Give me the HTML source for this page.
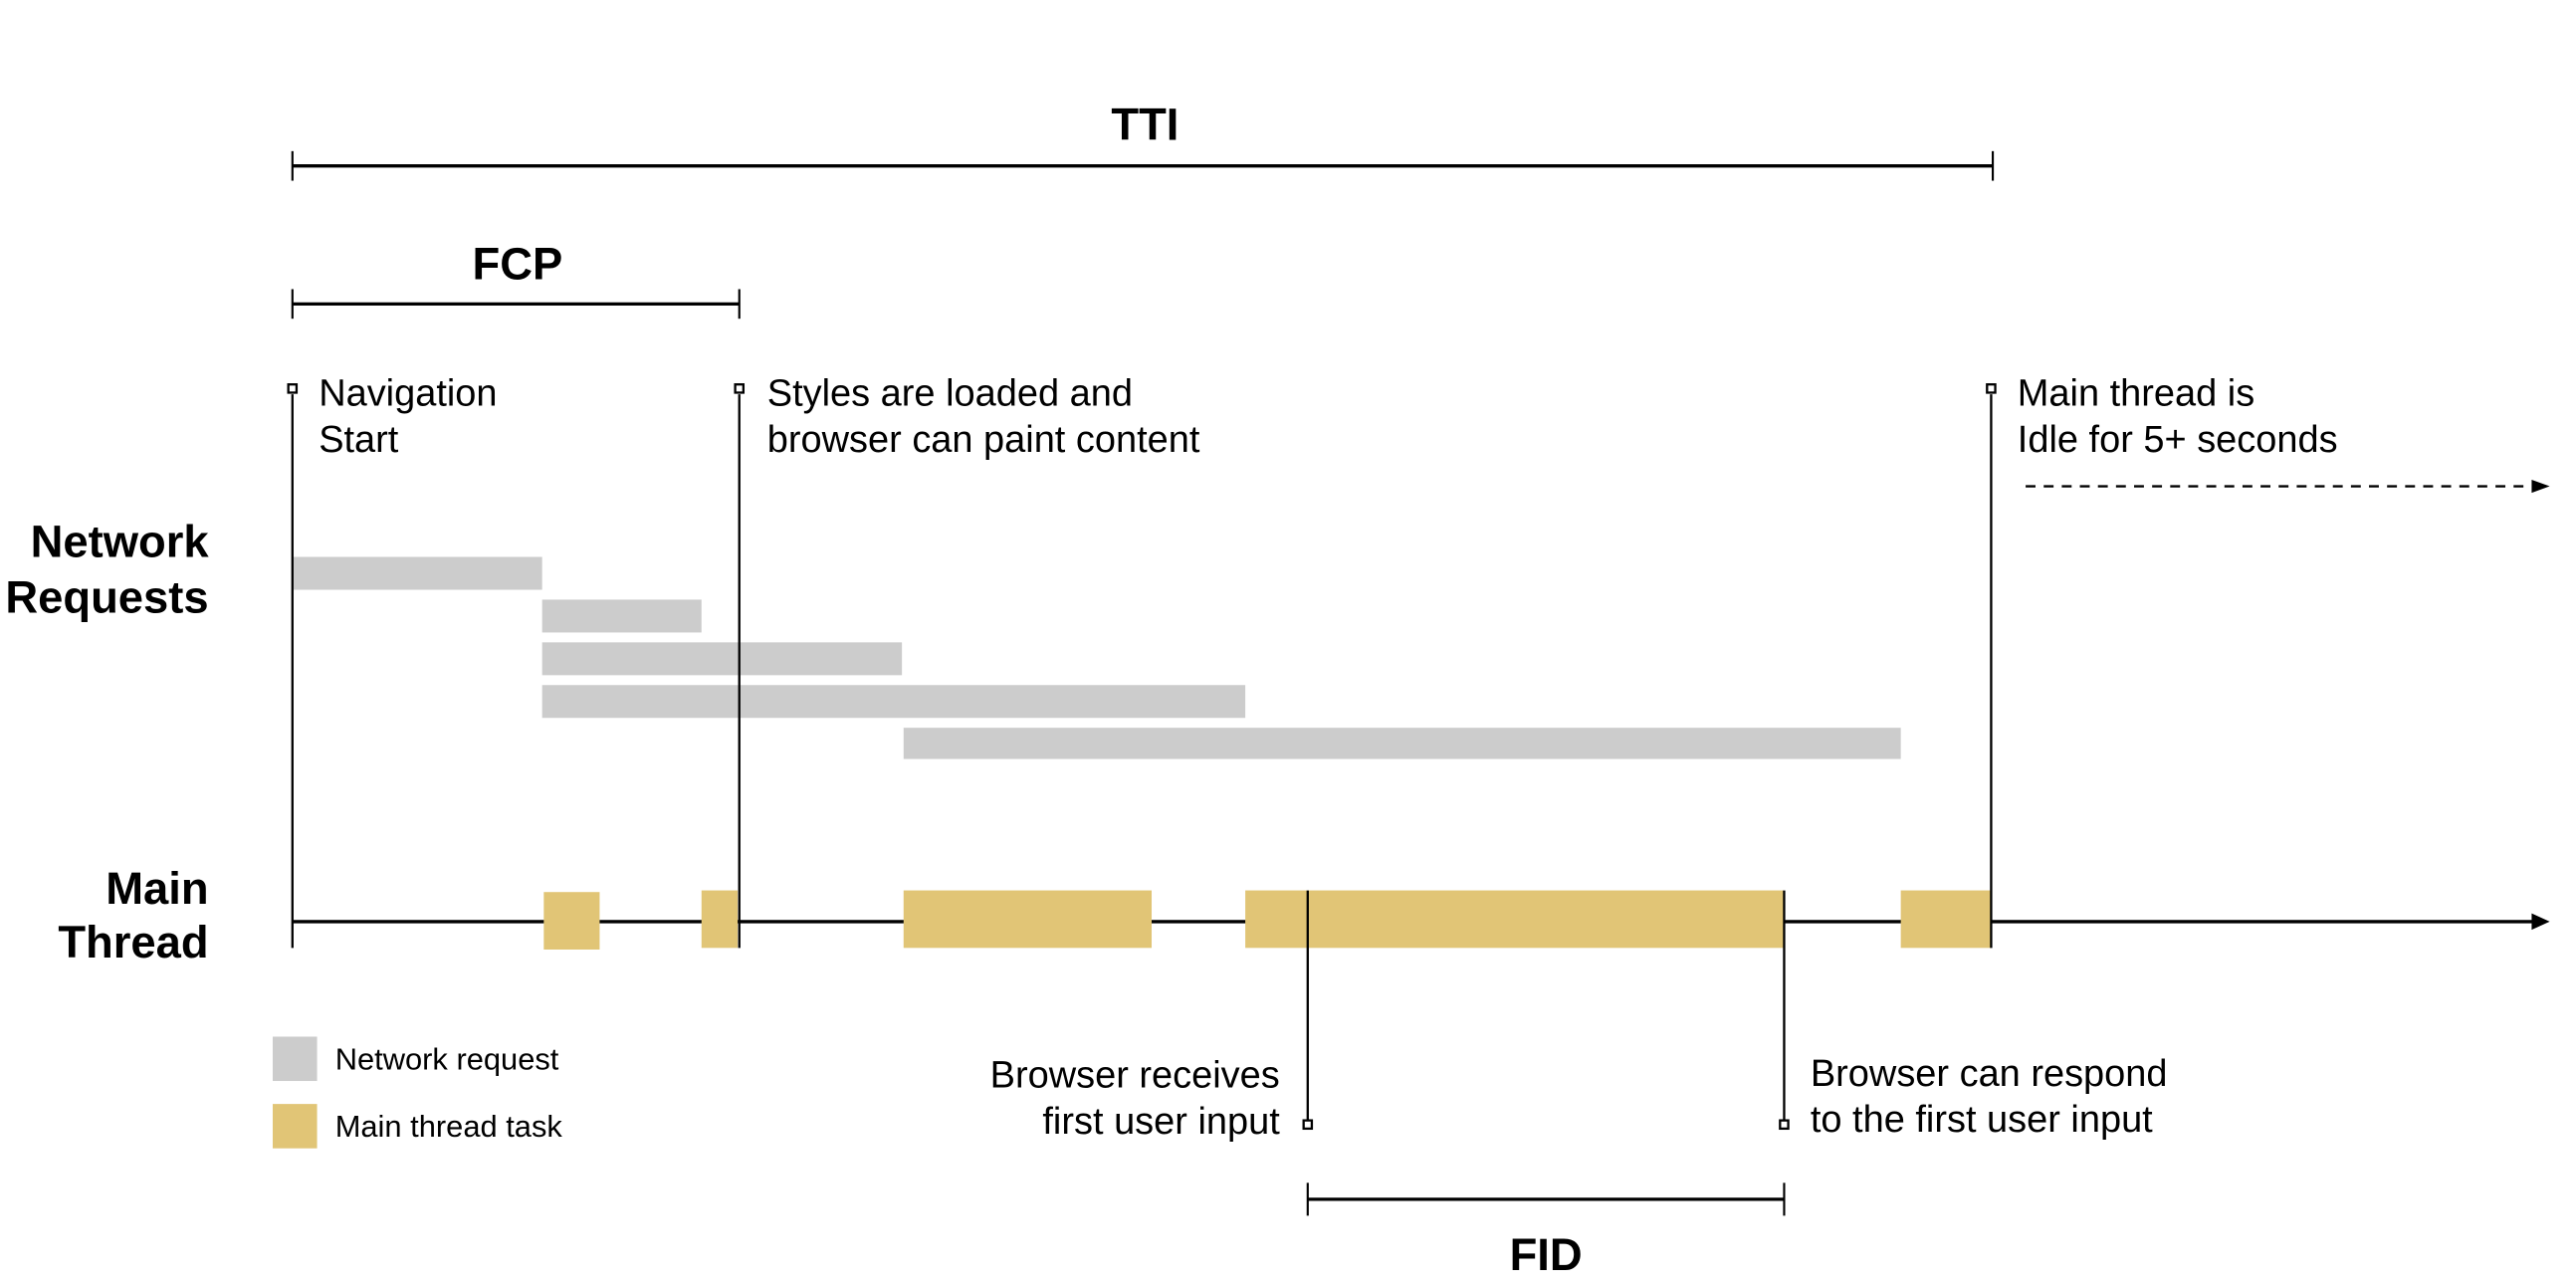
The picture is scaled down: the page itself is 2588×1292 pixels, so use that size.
<!DOCTYPE html>
<html><head><meta charset="utf-8"><style>
html,body{margin:0;padding:0;background:#fff;}
svg{display:block;}
text{font-family:"Liberation Sans",Arial,sans-serif;fill:#000;}
.b{font-weight:bold;font-size:27.5px;}
.t{font-size:23px;}
.l{font-size:18.7px;}
</style></head><body>
<svg width="2588" height="1292" viewBox="0 0 1568 782.8" preserveAspectRatio="none" xmlns="http://www.w3.org/2000/svg">
<rect width="1568" height="783" fill="#fff"/>
<text class="b" x="697" y="85" text-anchor="middle">TTI</text>
<line x1="178" y1="101" x2="1213" y2="101" stroke="#000" stroke-width="2"/>
<line x1="178" y1="92" x2="178" y2="110" stroke="#000" stroke-width="1.3"/>
<line x1="1213" y1="92" x2="1213" y2="110" stroke="#000" stroke-width="1.3"/>
<text class="b" x="315" y="170" text-anchor="middle">FCP</text>
<line x1="178" y1="185" x2="450" y2="185" stroke="#000" stroke-width="2"/>
<line x1="178" y1="176" x2="178" y2="194" stroke="#000" stroke-width="1.3"/>
<line x1="450" y1="176" x2="450" y2="194" stroke="#000" stroke-width="1.3"/>
<g fill="#cccccc">
<rect x="178" y="339" width="152" height="20"/>
<rect x="330" y="365" width="97" height="20"/>
<rect x="330" y="391" width="219" height="20"/>
<rect x="330" y="417" width="428" height="20"/>
<rect x="550" y="443" width="607" height="19"/>
</g>
<line x1="178" y1="561" x2="1542" y2="561" stroke="#000" stroke-width="2"/>
<polygon points="1541,556 1552,561 1541,566" fill="#000"/>
<g fill="#e1c576">
<rect x="331" y="543" width="34" height="35"/>
<rect x="427" y="542" width="22" height="35"/>
<rect x="550" y="542" width="151" height="35"/>
<rect x="758" y="542" width="328" height="35"/>
<rect x="1157" y="542" width="55" height="35"/>
</g>
<g stroke="#000" stroke-width="1.4" fill="#fff">
<line x1="178" y1="240" x2="178" y2="577"/>
<line x1="450" y1="240" x2="450" y2="577"/>
<line x1="1212" y1="240" x2="1212" y2="577"/>
<rect x="175.5" y="234" width="5" height="5"/>
<rect x="447.5" y="234" width="5" height="5"/>
<rect x="1209.5" y="234" width="5" height="5"/>
<line x1="796" y1="542" x2="796" y2="682"/>
<line x1="1086" y1="542" x2="1086" y2="682"/>
<rect x="793.5" y="682" width="5" height="5"/>
<rect x="1083.5" y="682" width="5" height="5"/>
</g>
<text class="b" x="127" y="339" text-anchor="end">Network</text>
<text class="b" x="127" y="373" text-anchor="end">Requests</text>
<text class="b" x="127" y="550" text-anchor="end">Main</text>
<text class="b" x="127" y="583" text-anchor="end">Thread</text>
<text class="t" x="194" y="247">Navigation</text>
<text class="t" x="194" y="275">Start</text>
<text class="t" x="467" y="247">Styles are loaded and</text>
<text class="t" x="467" y="275">browser can paint content</text>
<text class="t" x="1228" y="247">Main thread is</text>
<text class="t" x="1228" y="275">Idle for 5+ seconds</text>
<line x1="1233" y1="296" x2="1541" y2="296" stroke="#000" stroke-width="1.4" stroke-dasharray="6,5"/>
<polygon points="1541,292 1552,296 1541,300" fill="#000"/>
<text class="t" x="779" y="662" text-anchor="end">Browser receives</text>
<text class="t" x="779" y="690" text-anchor="end">first user input</text>
<text class="t" x="1102" y="661">Browser can respond</text>
<text class="t" x="1102" y="689">to the first user input</text>
<line x1="796" y1="730" x2="1086" y2="730" stroke="#000" stroke-width="2"/>
<line x1="796" y1="720" x2="796" y2="740" stroke="#000" stroke-width="1.3"/>
<line x1="1086" y1="720" x2="1086" y2="740" stroke="#000" stroke-width="1.3"/>
<text class="b" x="941" y="773" text-anchor="middle">FID</text>
<rect x="166" y="631" width="27" height="27" fill="#cccccc"/>
<text class="l" x="204" y="651">Network request</text>
<rect x="166" y="672" width="27" height="27" fill="#e1c576"/>
<text class="l" x="204" y="692">Main thread task</text>
</svg>
</body></html>
